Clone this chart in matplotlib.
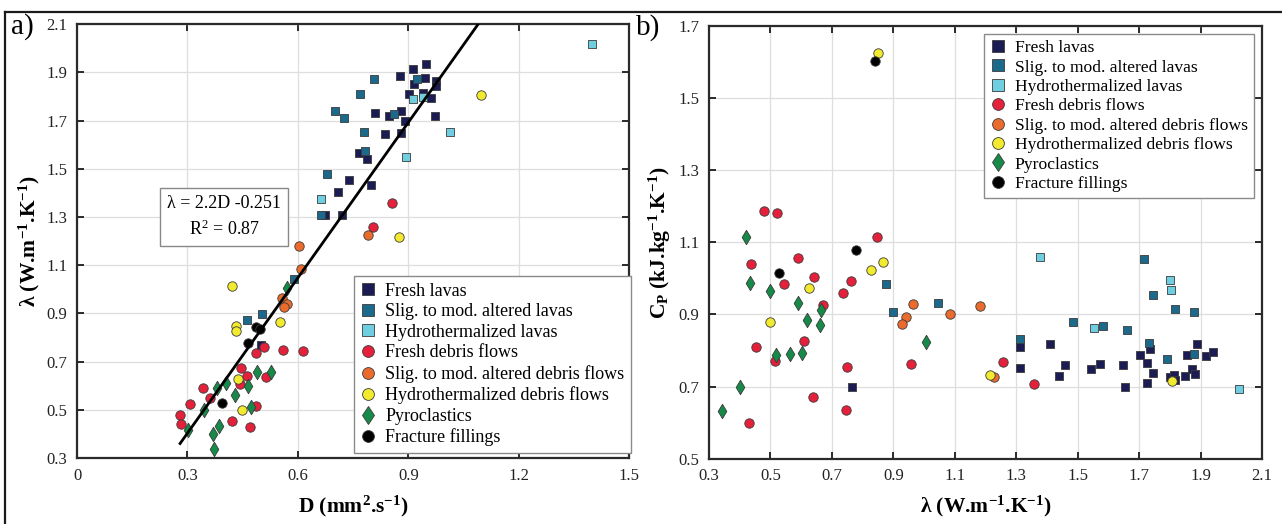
import matplotlib
matplotlib.use('Agg')
import matplotlib.pyplot as plt
from matplotlib.lines import Line2D

plt.rcParams['font.family'] = ['Liberation Serif', 'DejaVu Serif']
plt.rcParams['mathtext.fontset'] = 'custom'
plt.rcParams['mathtext.rm'] = 'Liberation Serif'
plt.rcParams['mathtext.it'] = 'Liberation Serif:italic'
plt.rcParams['mathtext.bf'] = 'Liberation Serif:bold'

# ---------------- data: panel a (D, lambda) ----------------
fresh_lavas_D = [0.948, 0.912, 0.877, 0.945, 0.975, 0.975, 0.915, 0.903, 0.939, 0.961, 0.974, 0.809, 0.848,
                 0.879, 0.891, 0.837, 0.879, 0.767, 0.787, 0.738, 0.709, 0.798, 0.719, 0.675, 0.500]
fresh_lavas_L = [1.933, 1.912, 1.883, 1.876, 1.864, 1.843, 1.850, 1.809, 1.815, 1.795, 1.720, 1.730, 1.720,
                 1.739, 1.698, 1.643, 1.647, 1.566, 1.540, 1.453, 1.405, 1.432, 1.307, 1.307, 0.769]
alt_lavas_D = [0.807, 0.770, 0.701, 0.726, 0.779, 0.782, 0.678, 0.663, 0.925, 0.860, 0.590, 0.462, 0.503]
alt_lavas_L = [1.873, 1.810, 1.739, 1.710, 1.654, 1.575, 1.478, 1.307, 1.871, 1.726, 1.042, 0.871, 0.896]
hyd_lavas_D = [1.400, 0.913, 0.941, 1.014, 0.893, 0.663]
hyd_lavas_L = [2.017, 1.790, 1.799, 1.654, 1.547, 1.374]
fresh_deb_D = [0.855, 0.803, 0.279, 0.282, 0.308, 0.342, 0.360, 0.420, 0.445, 0.443, 0.461, 0.470, 0.487,
               0.487, 0.508, 0.514, 0.560, 0.615]
fresh_deb_L = [1.359, 1.259, 0.478, 0.439, 0.522, 0.591, 0.547, 0.453, 0.672, 0.605, 0.641, 0.430, 0.515,
               0.737, 0.761, 0.637, 0.748, 0.745]
alt_deb_D = [0.791, 0.603, 0.608, 0.558, 0.571, 0.562]
alt_deb_L = [1.226, 1.181, 1.084, 0.962, 0.939, 0.927]
hyd_deb_D = [1.098, 0.874, 0.420, 0.433, 0.432, 0.551, 0.436, 0.448]
hyd_deb_L = [1.807, 1.215, 1.015, 0.849, 0.827, 0.865, 0.626, 0.499]
pyro_D = [0.301, 0.344, 0.381, 0.406, 0.429, 0.370, 0.386, 0.372, 0.464, 0.472, 0.490, 0.527, 0.570]
pyro_L = [0.416, 0.497, 0.591, 0.612, 0.561, 0.398, 0.432, 0.337, 0.598, 0.512, 0.658, 0.658, 1.004]
fract_D = [0.395, 0.464, 0.487, 0.497]
fract_L = [0.527, 0.775, 0.842, 0.836]

fit_D = [0.28, 1.09]
fit_L = [0.36, 2.10]

# ---------------- data: panel b (lambda, Cp) ----------------
b_fresh_lavas_L = [1.312, 1.312, 1.410, 1.737, 1.703, 1.726, 1.744, 1.725, 1.654, 1.648, 1.572, 1.545, 1.460,
                   1.439, 1.799, 1.815, 1.818, 1.849, 1.872, 1.883, 1.855, 1.889, 1.918, 1.940, 0.767]
b_fresh_lavas_C = [0.810, 0.750, 0.819, 0.803, 0.787, 0.764, 0.737, 0.709, 0.700, 0.759, 0.763, 0.748, 0.761,
                   0.728, 0.726, 0.732, 0.718, 0.730, 0.749, 0.735, 0.787, 0.819, 0.785, 0.797, 0.700]
b_alt_lavas_L = [0.875, 1.047, 0.899, 1.311, 1.717, 1.745, 1.817, 1.880, 1.484, 1.582, 1.660, 1.731, 1.791, 1.879]
b_alt_lavas_C = [0.983, 0.931, 0.907, 0.833, 1.054, 0.955, 0.915, 0.907, 0.880, 0.868, 0.856, 0.821, 0.775, 0.790]
b_hyd_lavas_L = [1.376, 1.802, 1.804, 1.553, 2.024]
b_hyd_lavas_C = [1.058, 0.995, 0.968, 0.863, 0.694]
b_fresh_deb_L = [0.478, 0.521, 0.848, 0.437, 0.590, 0.762, 0.642, 0.545, 0.736, 0.670, 0.453, 0.608, 0.516,
                 0.749, 0.958, 0.431, 0.640, 0.745, 1.258, 1.359]
b_fresh_deb_C = [1.187, 1.180, 1.116, 1.041, 1.056, 0.993, 1.005, 0.983, 0.958, 0.926, 0.810, 0.826, 0.772,
                 0.753, 0.763, 0.600, 0.670, 0.635, 0.767, 0.706]
b_alt_deb_L = [0.963, 1.083, 1.181, 0.940, 0.927, 1.228]
b_alt_deb_C = [0.930, 0.901, 0.924, 0.892, 0.873, 0.726]
b_hyd_deb_L = [0.850, 0.865, 0.826, 0.625, 0.499, 1.216, 1.808]
b_hyd_deb_C = [1.624, 1.046, 1.024, 0.972, 0.880, 0.732, 0.716]
b_pyro_L = [0.419, 0.435, 0.500, 0.589, 0.664, 0.620, 0.663, 1.006, 0.518, 0.565, 0.603, 0.401, 0.342]
b_pyro_C = [1.116, 0.986, 0.965, 0.931, 0.912, 0.884, 0.871, 0.824, 0.787, 0.790, 0.794, 0.700, 0.633]
b_fract_L = [0.839, 0.527, 0.777]
b_fract_C = [1.603, 1.015, 1.079]

labels = ['Fresh lavas', 'Slig. to mod. altered lavas', 'Hydrothermalized lavas', 'Fresh debris flows',
          'Slig. to mod. altered debris flows', 'Hydrothermalized debris flows', 'Pyroclastics',
          'Fracture fillings']
colors = ['#1c1c55', '#1b6a8b', '#6fcfe0', '#e4203a', '#ea6b2b', '#f2ea2e', '#168a48', '#000000']
markers = ['s', 's', 's', 'o', 'o', 'o', 'd', 'o']
sizes = [36, 36, 36, 46, 46, 46, 54, 46]

panel_a = [(fresh_lavas_D, fresh_lavas_L), (alt_lavas_D, alt_lavas_L), (hyd_lavas_D, hyd_lavas_L),
           (fresh_deb_D, fresh_deb_L), (alt_deb_D, alt_deb_L), (hyd_deb_D, hyd_deb_L),
           (pyro_D, pyro_L), (fract_D, fract_L)]
panel_b = [(b_fresh_lavas_L, b_fresh_lavas_C), (b_alt_lavas_L, b_alt_lavas_C), (b_hyd_lavas_L, b_hyd_lavas_C),
           (b_fresh_deb_L, b_fresh_deb_C), (b_alt_deb_L, b_alt_deb_C), (b_hyd_deb_L, b_hyd_deb_C),
           (b_pyro_L, b_pyro_C), (b_fract_L, b_fract_C)]

fig = plt.figure(figsize=(12.82, 5.24), dpi=100)
ax1 = fig.add_axes([0.0601, 0.126, 0.4306, 0.828])
ax2 = fig.add_axes([0.5530, 0.1248, 0.4314, 0.8256])

edge = '#3a3a3a'
for ax, data in ((ax1, panel_a), (ax2, panel_b)):
    for (x, y), c, m, s in zip(data, colors, markers, sizes):
        ax.scatter(x, y, s=s, c=c, marker=m, edgecolors=edge, linewidths=0.6, zorder=3)

ax1.plot(fit_D, fit_L, color='black', lw=2.0, zorder=4)

def style(ax):
    ax.grid(True, color='#dedede', lw=0.9, zorder=0)
    ax.set_axisbelow(True)
    for sp in ax.spines.values():
        sp.set_linewidth(1.6)
        sp.set_color('#2a2a2a')
    ax.tick_params(direction='in', length=5, width=1.4, top=True, right=True,
                   labelsize=12, pad=7, colors='#2a2a2a', labelcolor='#222222')

lab_kw = dict(fontsize=15.5, fontweight='bold')
sup = r'$^{\mathbf{-1}}$'

ax1.set_xlim(0, 1.5)
ax1.set_ylim(0.3, 2.1)
ax1.set_xticks([0, 0.3, 0.6, 0.9, 1.2, 1.5])
ax1.set_xticklabels(['0', '0.3', '0.6', '0.9', '1.2', '1.5'])
ax1.set_yticks([0.3, 0.5, 0.7, 0.9, 1.1, 1.3, 1.5, 1.7, 1.9, 2.1])
ax1.set_yticklabels(['0.3', '0.5', '0.7', '0.9', '1.1', '1.3', '1.5', '1.7', '1.9', '2.1'])
style(ax1)
ax1.set_xlabel('D (mm' + r'$^{\mathbf{2}}$' + '.s' + sup + ')', labelpad=7, **lab_kw)
ax1.set_ylabel('λ (W.m' + sup + '.K' + sup + ')', labelpad=3, **lab_kw)

ax2.set_xlim(0.3, 2.1)
ax2.set_ylim(0.5, 1.7)
ax2.set_xticks([0.3, 0.5, 0.7, 0.9, 1.1, 1.3, 1.5, 1.7, 1.9, 2.1])
ax2.set_xticklabels(['0.3', '0.5', '0.7', '0.9', '1.1', '1.3', '1.5', '1.7', '1.9', '2.1'])
ax2.set_yticks([0.5, 0.7, 0.9, 1.1, 1.3, 1.5, 1.7])
ax2.set_yticklabels(['0.5', '0.7', '0.9', '1.1', '1.3', '1.5', '1.7'])
style(ax2)
ax2.set_xlabel('λ (W.m' + sup + '.K' + sup + ')', labelpad=7, **lab_kw)
ax2.set_ylabel('C' + r'$_{\mathbf{P}}$' + ' (kJ.kg' + sup + '.K' + sup + ')', labelpad=4, **lab_kw)

# equation box
ax1.text(0.40, 1.30, 'λ = 2.2D -0.251\n' + r'R$^2$ = 0.87', fontsize=13, ha='center', va='center',
         linespacing=1.45, zorder=5,
         bbox=dict(boxstyle='square,pad=0.4', fc='white', ec='#888888', lw=1.0))

handles = []
for lab, c, m in zip(labels, colors, markers):
    ms = 8.5 if m != 'd' else 9.5
    handles.append(Line2D([], [], ls='none', marker=m, color=c, markerfacecolor=c, markeredgecolor=edge,
                          markeredgewidth=0.6, markersize=ms, label=lab))

leg_kw = dict(fontsize=13.0, frameon=True, fancybox=False, framealpha=1, edgecolor='#8a8a8a',
              handlelength=0.9, handletextpad=0.5, labelspacing=0.2, borderpad=0.35)
l1 = ax1.legend(handles=handles, loc='lower right', bbox_to_anchor=(1.003, 0.012), borderaxespad=0, **leg_kw)
l1.get_frame().set_linewidth(1.0)
l1.set_zorder(10)
leg_kw['fontsize'] = 12.6
leg_kw['labelspacing'] = 0.18
l2 = ax2.legend(handles=handles, loc='upper right', bbox_to_anchor=(0.985, 0.982), borderaxespad=0, **leg_kw)
l2.get_frame().set_linewidth(1.0)
l2.set_zorder(10)

# panel letters
fig.text(11 / 1282, 1 - 27 / 524, 'a)', fontsize=21, ha='left', va='center')
fig.text(636 / 1282, 1 - 28 / 524, 'b)', fontsize=21, ha='left', va='center')

# figure frame (top and left lines)
fig.add_artist(Line2D([5 / 1282, 1], [1 - 12 / 524, 1 - 12 / 524], transform=fig.transFigure,
                      color='#1a1a1a', lw=1.6))
fig.add_artist(Line2D([5 / 1282, 5 / 1282], [0, 1 - 12 / 524], transform=fig.transFigure,
                      color='#1a1a1a', lw=1.6))

fig.savefig('out.png', dpi=100)
